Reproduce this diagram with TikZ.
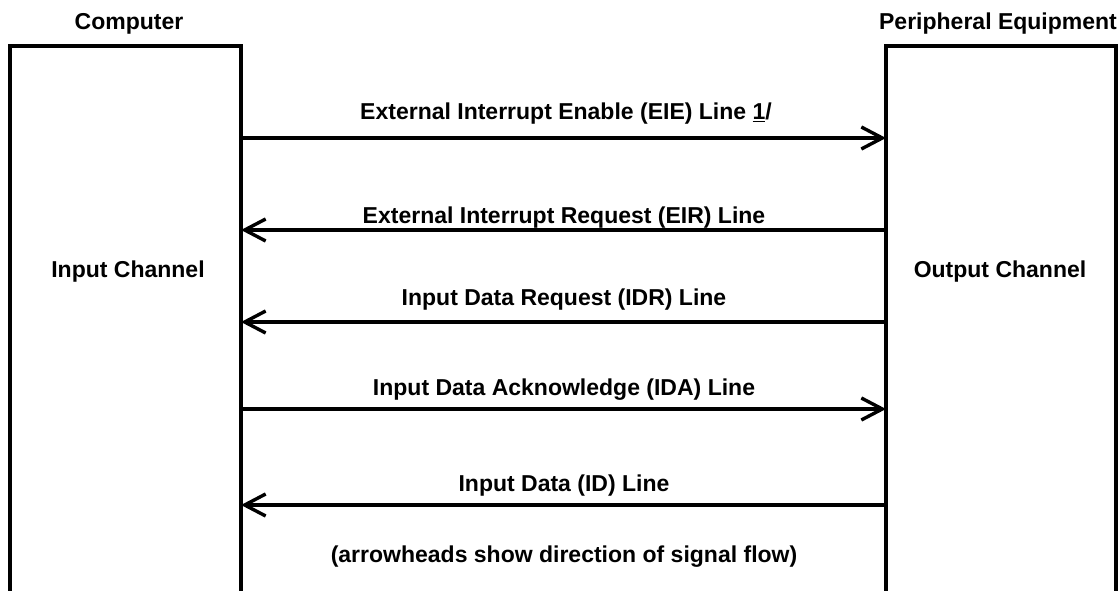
\documentclass[tikz,border=0pt]{standalone}
\usepackage{fontspec}
\setmainfont{Liberation Sans}
\usetikzlibrary{arrows.meta}
\tikzset{
  unit/.style={line width=4pt, line cap=butt},
  sig/.style={line width=3.4pt, -{Straight Barb[length=21pt,width=22pt,line width=3.4pt]}},
  lbl/.style={font=\fontsize{23}{26}\bfseries\selectfont, inner sep=0pt, anchor=base},
  title/.style={font=\fontsize{23}{26}\bfseries\selectfont, inner sep=0pt, anchor=base},
}
\begin{document}
\begin{tikzpicture}[x=1pt,y=-1pt]
\useasboundingbox (0,0) rectangle (1118,591);

% computer (left) and peripheral (right) units, open at the bottom
\draw[unit] (10,591) -- (10,46) -- (241,46) -- (241,591);
\draw[unit] (886,591) -- (886,46) -- (1116,46) -- (1116,591);

\node[title] (comp) at (129,30) {Computer};
\node[title] (peri) at (998,30) {Peripheral Equipment};
\node[lbl] (inch) at (128,277) {Input Channel};
\node[lbl] (outch) at (1000,277) {Output Channel};

% attachment points on the two units
\foreach \i/\y in {1/138, 2/230, 3/322, 4/409, 5/505} {
  \coordinate (L\i) at (241,\y);
  \coordinate (R\i) at (886,\y);
}

\draw[sig] (L1) -- (R1);
\draw[sig] (R2) -- (L2);
\draw[sig] (R3) -- (L3);
\draw[sig] (L4) -- (R4);
\draw[sig] (R5) -- (L5);

\node[lbl] (t1) at (566,120) {External Interrupt Enable (EIE) Line \underline{1}/};
\node[lbl] (t2) at (564,223) {External Interrupt Request (EIR) Line};
\node[lbl] (t3) at (564,305) {Input Data Request (IDR) Line};
\node[lbl] (t4) at (564,395) {Input Data Acknowledge (IDA) Line};
\node[lbl] (t5) at (564,491) {Input Data (ID) Line};
\node[lbl] (note) at (564,562) {(arrowheads show direction of signal flow)};
\end{tikzpicture}
\end{document}
